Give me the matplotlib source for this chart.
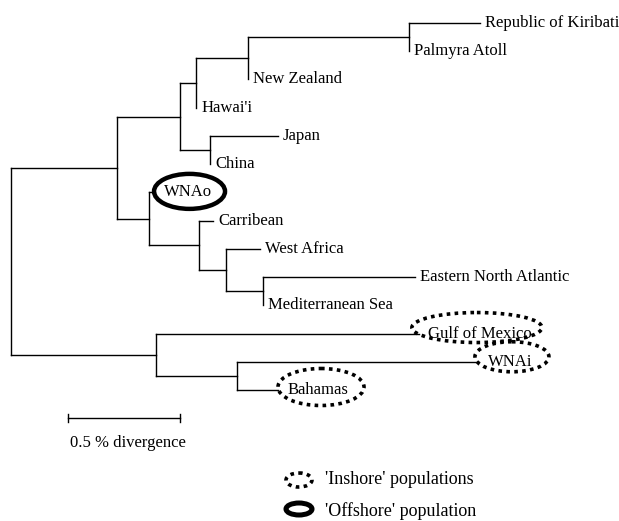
import numpy as np
import matplotlib.pyplot as plt
from matplotlib.patches import Ellipse

plt.rcParams['font.family'] = ['Liberation Serif', 'DejaVu Serif']

# tree: node, parent, branch length (% divergence); children listed top to bottom
names = ['root', 'A', 'P', 'H', 'N', 'K', 'Republic of Kiribati', 'Palmyra Atoll',
         'New Zealand', "Hawai'i", 'J', 'Japan', 'China', 'T', 'WNAo', 'C',
         'Carribean', 'W', 'West Africa', 'E', 'Eastern North Atlantic',
         'Mediterranean Sea', 'B', 'Gulf of Mexico', 'G', 'WNAi', 'Bahamas']
parents = [None, 'root', 'A', 'P', 'H', 'N', 'K', 'K', 'N', 'H', 'P', 'J', 'J',
           'A', 'T', 'T', 'C', 'C', 'W', 'W', 'E', 'E', 'root', 'B', 'B', 'G', 'G']
branch = [0, 0.473, 0.281, 0.072, 0.232, 0.719, 0.317, 0, 0, 0, 0.134, 0.304, 0,
          0.143, 0.027, 0.223, 0.063, 0.121, 0.152, 0.165, 0.679, 0, 0.647, 1.174,
          0.362, 1.080, 0.183]

inshore = ['Gulf of Mexico', 'WNAi', 'Bahamas']
offshore = ['WNAo']
scale_len = 0.5

# pixel scale of the original drawing
SX = 224.0   # px per 1 % divergence
SY = 28.23   # px per leaf row

children = {n: [] for n in names}
for n, p in zip(names, parents):
    if p is not None:
        children[p].append(n)
blen = dict(zip(names, branch))

xpos, ypos = {}, {}
leaf_count = [0]


def layout(node, x0):
    xpos[node] = x0 + blen[node]
    if not children[node]:
        ypos[node] = leaf_count[0]
        leaf_count[0] += 1
    else:
        for c in children[node]:
            layout(c, xpos[node])
        ys = [ypos[c] for c in children[node]]
        ypos[node] = (min(ys) + max(ys)) / 2


layout('root', 0.0)

fig = plt.figure(figsize=(6.19, 5.21), dpi=100)
ax = fig.add_axes([0, 0, 1, 1])
ax.set_xlim(-11 / SX, (619 - 11) / SX)
ax.set_ylim((521 - 23) / SY, -23 / SY)
ax.axis('off')

lw = 1.0
for n, p in zip(names, parents):
    if p is not None and blen[n] > 0:
        ax.plot([xpos[p], xpos[n]], [ypos[n], ypos[n]], color='black', lw=lw)
    if children[n]:
        ys = [ypos[c] for c in children[n]]
        ax.plot([xpos[n], xpos[n]], [min(ys), max(ys)], color='black', lw=lw)

fs = 12
dots = (0, (1, 1.2))
ellipse_style = {
    'WNAo': (71, 35, 34.5, -1),
    'Gulf of Mexico': (130, 30, 58, -6),
    'WNAi': (74, 30, 33, -5),
    'Bahamas': (86, 37, 43, -3),
}
for n in names:
    if children[n]:
        continue
    circled = n in inshore or n in offshore
    gap = 6.5 if circled else 3.6
    ax.annotate(n, (xpos[n], ypos[n]), xytext=(gap, 0), textcoords='offset points',
                ha='left', va='center', fontsize=fs)
    if circled:
        w, h, dx, dy = ellipse_style[n]
        if n in offshore:
            e = Ellipse((xpos[n] + dx / SX, ypos[n] + dy / SY), w / SX, h / SY,
                        fc='none', ec='black', lw=3.2, zorder=5)
        else:
            e = Ellipse((xpos[n] + dx / SX, ypos[n] + dy / SY), w / SX, h / SY,
                        fc='none', ec='black', lw=2.6, ls=dots, zorder=5)
            e.set_capstyle('butt')
        ax.add_patch(e)

# scale bar
sb_x = (68 - 11) / SX
sb_y = leaf_count[0]
ax.plot([sb_x, sb_x + scale_len], [sb_y, sb_y], color='black', lw=lw)
for xx in [sb_x, sb_x + scale_len]:
    ax.plot([xx, xx], [sb_y - 4 / SY, sb_y + 4 / SY], color='black', lw=lw)
ax.text(sb_x + 2 / SX, sb_y + 25 / SY, f'{scale_len} % divergence', ha='left',
        va='center', fontsize=fs)

# legend
lx = (299 - 11) / SX
ly1 = (480 - 23) / SY
ly2 = (509 - 23) / SY
ax.add_patch(Ellipse((lx, ly1), 26 / SX, 14 / SY, fc='none', ec='black', lw=2.6,
                     ls=dots, capstyle='butt'))
ax.add_patch(Ellipse((lx, ly2), 26 / SX, 12 / SY, fc='none', ec='black', lw=3.6))
ax.text(lx + 26 / SX, ly1, "'Inshore' populations", ha='left', va='center', fontsize=13)
ax.text(lx + 26 / SX, ly2 + 2 / SY, "'Offshore' population", ha='left', va='center',
        fontsize=13)

fig.savefig('out.png', dpi=100)
